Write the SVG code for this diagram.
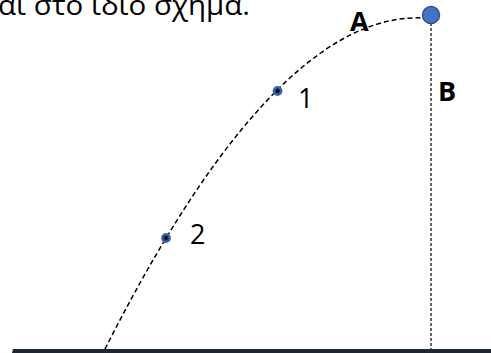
<svg xmlns="http://www.w3.org/2000/svg" width="491" height="353" viewBox="0 0 491 353">
<style>
.lbl{font-family:"Open Sans","Noto Sans","Liberation Sans",sans-serif;fill:#000}
.b{font-weight:bold;font-size:27px}
.n{font-size:27px}
.dot{fill:#1f3a6e;stroke:#3a66b0;stroke-width:2.2}
</style>
<rect width="491" height="353" fill="#fff"/>
<text class="lbl" x="-2" y="15" font-size="28" textLength="252" lengthAdjust="spacingAndGlyphs">αι στο ίδιο σχήμα.</text>
<g id="connectors" fill="none">
<path id="trajectory" d="M105,349 C178,205 295,12 423,18" stroke="#000" stroke-width="1.5" stroke-dasharray="5,3"/>
<line id="height" x1="431" y1="23" x2="431" y2="349" stroke="#000" stroke-width="1.2" stroke-dasharray="3,2"/>
</g>
<g id="ground"><path d="M12,353 L13,349 L491,349 L491,353 Z" fill="#1e2633"/></g>
<g id="ball"><circle cx="431" cy="15" r="8.5" fill="#4472c4" stroke="#2f528f" stroke-width="1.5"/></g>
<g id="point1"><circle cx="277.5" cy="91" r="3.8" class="dot"/><circle cx="277.5" cy="91" r="1.7" fill="#000"/><text class="lbl n" x="298" y="108">1</text></g>
<g id="point2"><circle cx="166" cy="238" r="3.8" class="dot"/><circle cx="166" cy="238" r="1.7" fill="#000"/><text class="lbl n" x="190" y="244">2</text></g>
<g id="labelA"><text class="lbl b" x="350" y="31">A</text></g>
<g id="labelB"><text class="lbl b" x="438" y="101">B</text></g>
</svg>
